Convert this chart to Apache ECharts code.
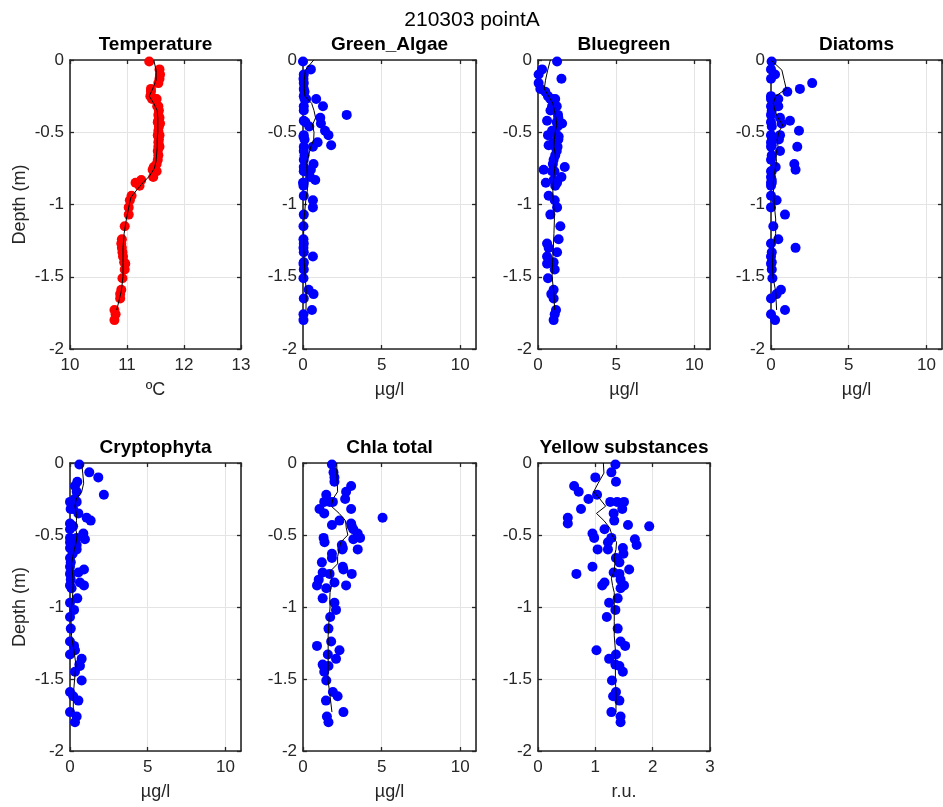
<!DOCTYPE html>
<html>
<head>
<meta charset="utf-8">
<script src="https://cdn.jsdelivr.net/npm/echarts@6/dist/echarts.min.js"></script>
<style>
html,body{margin:0;padding:0;background:#ffffff;}
#chart{width:943px;height:807px;}
</style>
</head>
<body>
<div id="chart"></div>
<script>
// ---------------- DATA ----------------
const mainTitle = '210303 pointA';
const panelTitles = ['Temperature', 'Green_Algae', 'Bluegreen', 'Diatoms', 'Cryptophyta', 'Chla total', 'Yellow substances'];
const panelUnits = ['ºC', 'µg/l', 'µg/l', 'µg/l', 'µg/l', 'µg/l', 'r.u.'];
const yAxisName = 'Depth (m)';

// measurement depths (m)
const depth = [-0.01,-0.065,-0.10,-0.13,-0.16,-0.20,-0.22,-0.25,-0.27,-0.27,-0.27,-0.32,-0.32,-0.35,-0.38,-0.40,-0.42,-0.43,-0.44,-0.46,-0.49,-0.52,-0.52,-0.53,-0.55,-0.57,-0.59,-0.60,-0.60,-0.63,-0.66,-0.69,-0.72,-0.74,-0.76,-0.77,-0.77,-0.81,-0.83,-0.85,-0.85,-0.87,-0.94,-0.97,-1.02,-1.07,-1.15,-1.24,-1.27,-1.30,-1.33,-1.36,-1.40,-1.41,-1.45,-1.51,-1.59,-1.62,-1.65,-1.73,-1.76,-1.80];

const temperature = [11.39,11.57,11.58,11.57,11.55,11.42,11.42,11.41,11.44,11.50,11.52,11.55,11.53,11.56,11.55,11.57,11.55,11.54,11.58,11.56,11.55,11.54,11.57,11.55,11.56,11.55,11.56,11.55,11.57,11.54,11.55,11.54,11.52,11.47,11.45,11.52,11.48,11.46,11.25,11.20,11.15,11.22,11.08,11.05,11.03,11.03,10.96,10.91,10.90,10.91,10.92,10.93,10.95,10.97,10.96,10.92,10.90,10.88,10.88,10.78,10.80,10.78];
const greenAlgae = [0.0,0.5,0.05,0.03,0.05,0.05,0.1,0.05,0.84,0.1,0.2,1.27,0.05,0.05,2.78,1.1,0.05,0.15,1.14,0.4,1.4,1.62,0.05,0.03,0.1,0.93,1.79,0.63,0.05,0.05,0.1,0.05,0.67,0.05,0.5,0.1,0.05,0.45,0.78,0.05,0.0,0.03,0.05,0.63,0.63,0.05,0.03,0.03,0.05,0.03,0.05,0.63,0.05,0.03,0.05,0.03,0.36,0.67,0.05,0.57,0.03,0.03];
const bluegreen = [1.22,0.26,0.04,1.5,0.04,0.15,0.47,0.64,0.79,1.1,0.9,1.2,0.9,0.8,1.28,1.3,0.58,1.2,1.54,1.25,0.9,1.2,0.64,1.32,1.3,1.0,0.68,1.25,1.1,1.2,1.1,1.0,0.95,1.71,0.36,0.9,1.05,1.5,1.0,1.22,0.5,1.1,0.68,1.07,1.22,0.79,1.43,1.32,0.58,0.68,1.22,0.58,1.0,0.58,1.07,0.64,1.0,0.85,1.0,1.15,1.07,1.0];
const diatoms = [0.04,0.0,0.26,0.0,2.65,1.86,1.05,0.0,0.0,0.47,0.05,0.47,0.0,0.05,0.0,0.58,1.22,0.0,0.68,0.05,1.8,0.58,0.0,0.05,0.51,0.0,0.05,1.69,0.0,0.58,0.05,0.0,1.5,0.3,1.58,0.0,0.05,0.0,0.05,0.0,0.05,0.0,0.0,0.36,0.0,0.9,0.15,0.47,0.0,1.58,0.05,0.0,0.05,0.0,0.05,0.09,0.64,0.36,0.0,0.9,0.0,0.26];
const cryptophyta = [0.6,1.24,1.82,0.47,0.32,0.43,2.18,0.3,0.0,0.43,0.1,0.04,0.2,0.54,1.07,1.33,0.0,0.05,0.2,0.0,0.86,0.43,0.0,0.96,0.0,0.43,0.0,0.1,0.43,0.17,0.0,0.05,0.0,0.9,0.54,0.05,0.0,0.05,0.64,0.9,0.0,0.1,0.47,0.0,0.26,0.0,0.05,0.0,0.26,0.32,0.0,0.75,0.6,0.64,0.32,0.75,0.0,0.21,0.54,0.0,0.43,0.32];
const chlaTotal = [1.84,1.94,2.0,2.0,3.06,2.74,1.48,2.68,1.35,1.9,1.7,1.05,3.06,1.35,5.06,2.32,3.06,1.84,3.1,3.2,3.48,3.63,1.31,3.2,1.37,2.47,2.53,3.48,2.5,1.84,1.84,1.2,2.53,2.57,1.25,1.69,3.1,1.0,2.0,0.89,2.74,1.48,1.25,2.0,2.1,1.73,1.62,1.79,0.89,2.32,1.58,2.1,1.25,1.62,1.35,1.48,1.9,2.2,1.46,2.57,1.52,1.62];
const yellowSubstances = [1.35,1.28,1.0,1.36,0.63,0.71,1.03,0.88,1.26,1.38,1.5,0.75,1.47,1.32,0.52,1.33,0.52,1.57,1.94,1.16,0.95,1.28,0.98,1.69,1.22,1.72,1.48,1.04,1.22,1.49,1.36,1.42,0.95,1.59,1.32,0.67,1.42,1.44,1.16,1.12,1.5,1.44,1.39,1.24,1.35,1.2,1.39,1.44,1.52,1.02,1.36,1.24,1.35,1.42,1.48,1.29,1.36,1.31,1.42,1.28,1.44,1.44];

// smoothed profile lines
const lineDepth = [0,-0.07,-0.14,-0.2,-0.25,-0.3,-0.35,-0.4,-0.45,-0.5,-0.55,-0.6,-0.65,-0.7,-0.75,-0.8,-0.85,-0.9,-0.95,-1.0,-1.1,-1.2,-1.3,-1.4,-1.5,-1.6,-1.73];
const temperatureLine = [11.47,11.51,11.51,11.45,11.39,11.47,11.53,11.54,11.54,11.54,11.53,11.53,11.52,11.51,11.48,11.40,11.28,11.17,11.07,11.04,10.99,10.95,10.93,10.93,10.93,10.90,10.82];
const greenAlgaeLine = [0.68,0.15,0.08,0.08,0.12,0.55,0.7,0.8,0.6,0.7,0.68,0.5,0.38,0.25,0.25,0.27,0.3,0.28,0.2,0.15,0.07,0.04,0.04,0.08,0.14,0.2,0.19];
const bluegreenLine = [0.79,0.62,0.48,0.4,0.68,0.95,1.05,1.15,1.2,1.1,1.05,1.02,1.1,1.13,1.07,1.02,0.98,0.95,0.96,1.0,1.05,1.02,0.98,0.93,0.9,1.0,1.07];
const diatomsLine = [0.0,0.7,0.85,0.98,0.3,0.15,0.25,0.45,0.75,0.5,0.4,0.45,0.32,0.35,0.28,0.2,0.15,0.16,0.18,0.21,0.3,0.3,0.15,0.1,0.12,0.3,0.36];
const cryptophytaLine = [0.75,0.82,0.88,0.75,0.4,0.32,0.4,0.42,0.35,0.45,0.4,0.28,0.18,0.1,0.15,0.18,0.2,0.18,0.14,0.1,0.07,0.1,0.25,0.38,0.3,0.22,0.21];
const chlaTotalLine = [2.15,2.15,2.18,2.2,1.9,1.8,2.3,2.7,2.75,2.85,2.4,2.3,2.2,2.2,1.75,1.8,1.82,1.72,1.7,1.72,1.65,1.6,1.6,1.6,1.58,1.7,1.84];
const yellowSubstancesLine = [1.14,1.15,1.05,0.97,1.08,1.18,1.02,1.15,1.25,1.29,1.37,1.36,1.33,1.34,1.33,1.28,1.3,1.33,1.33,1.33,1.33,1.33,1.35,1.35,1.35,1.36,1.36];

// ---------------- LAYOUT ----------------
const FONT = '"Liberation Sans", Arial, Helvetica, sans-serif';
const TXT = '#262626';
const colLeft = [70, 303, 538, 771];
const colWidth = [171, 173, 172, 171];
const rowTop = [60, 463];
const rowHeight = [289, 288];

const panelValues = [temperature, greenAlgae, bluegreen, diatoms, cryptophyta, chlaTotal, yellowSubstances];
const panelLines = [temperatureLine, greenAlgaeLine, bluegreenLine, diatomsLine, cryptophytaLine, chlaTotalLine, yellowSubstancesLine];
const panelColors = ['#ff0000', '#0000ff', '#0000ff', '#0000ff', '#0000ff', '#0000ff', '#0000ff'];
const panelX = [
  {min: 10, max: 13, interval: 1},
  {min: 0, max: 11, interval: 5},
  {min: 0, max: 11, interval: 5},
  {min: 0, max: 11, interval: 5},
  {min: 0, max: 11, interval: 5},
  {min: 0, max: 11, interval: 5},
  {min: 0, max: 3, interval: 1}
];
const panelPos = [[0,0],[0,1],[0,2],[0,3],[1,0],[1,1],[1,2]];

const grids = [], xAxes = [], yAxes = [], series = [], graphics = [];

graphics.push({
  type: 'text', x: 472, y: 20, z: 10,
  style: {text: mainTitle, font: 'normal 21px ' + FONT, fill: '#000', align: 'center', verticalAlign: 'middle'}
});

const boxLine = {show: true, onZero: false, lineStyle: {color: TXT, width: 1.6}};
const tickStyle = {show: true, inside: true, length: 4, lineStyle: {color: TXT, width: 1.3}};

panelTitles.forEach((t, i) => {
  const [r, c] = panelPos[i];
  const left = colLeft[c], top = rowTop[r], w = colWidth[c], h = rowHeight[r];
  grids.push({left: left, top: top, width: w, height: h, containLabel: false});
  const xr = panelX[i];
  const isMaxNice = Math.abs((xr.max - xr.min) / xr.interval - Math.round((xr.max - xr.min) / xr.interval)) < 1e-9;
  // bottom x axis
  xAxes.push({
    type: 'value', gridIndex: i, position: 'bottom', min: xr.min, max: xr.max, interval: xr.interval,
    name: panelUnits[i], nameLocation: 'middle', nameGap: 32,
    nameTextStyle: {fontFamily: FONT, fontSize: 18, color: TXT},
    axisLine: boxLine, axisTick: tickStyle,
    axisLabel: {fontFamily: FONT, fontSize: 17, color: TXT, margin: 8, showMaxLabel: isMaxNice, showMinLabel: true},
    splitLine: {show: true, lineStyle: {color: '#e4e4e4', width: 1}}
  });
  // top mirror axis
  xAxes.push({
    type: 'value', gridIndex: i, position: 'top', min: xr.min, max: xr.max, interval: xr.interval,
    axisLine: boxLine, axisTick: tickStyle, axisLabel: {show: false}, splitLine: {show: false}
  });
  // left y axis
  const yObj = {
    type: 'value', gridIndex: i, position: 'left', min: -2, max: 0, interval: 0.5,
    axisLine: boxLine, axisTick: tickStyle,
    axisLabel: {fontFamily: FONT, fontSize: 17, color: TXT, margin: 6},
    splitLine: {show: true, lineStyle: {color: '#e4e4e4', width: 1}}
  };
  if (c === 0) {
    yObj.name = yAxisName;
    yObj.nameLocation = 'middle';
    yObj.nameGap = 41;
    yObj.nameTextStyle = {fontFamily: FONT, fontSize: 18, color: TXT};
  }
  yAxes.push(yObj);
  yAxes.push({
    type: 'value', gridIndex: i, position: 'right', min: -2, max: 0, interval: 0.5,
    axisLine: boxLine, axisTick: tickStyle, axisLabel: {show: false}, splitLine: {show: false}
  });

  const vals = panelValues[i];
  series.push({
    type: 'scatter', xAxisIndex: 2 * i, yAxisIndex: 2 * i, clip: false,
    symbol: 'circle', symbolSize: 10,
    itemStyle: {color: panelColors[i], opacity: 1},
    data: depth.map((d, k) => [vals[k], d]),
    z: 2, silent: true
  });
  const lv = panelLines[i];
  series.push({
    type: 'line', xAxisIndex: 2 * i, yAxisIndex: 2 * i,
    showSymbol: false, symbol: 'none', smooth: false,
    lineStyle: {color: '#000', width: 1},
    data: lineDepth.map((d, k) => [lv[k], d]),
    z: 3, silent: true
  });

  graphics.push({
    type: 'text', x: left + w / 2, y: top - 15, z: 10,
    style: {text: t, font: 'bold 19px ' + FONT, fill: '#000', align: 'center', verticalAlign: 'middle'}
  });
});

const chart = echarts.init(document.getElementById('chart'), null, {renderer: 'canvas'});
chart.setOption({
  backgroundColor: '#ffffff',
  animation: false,
  grid: grids,
  xAxis: xAxes,
  yAxis: yAxes,
  series: series,
  graphic: graphics
});
</script>
</body>
</html>
